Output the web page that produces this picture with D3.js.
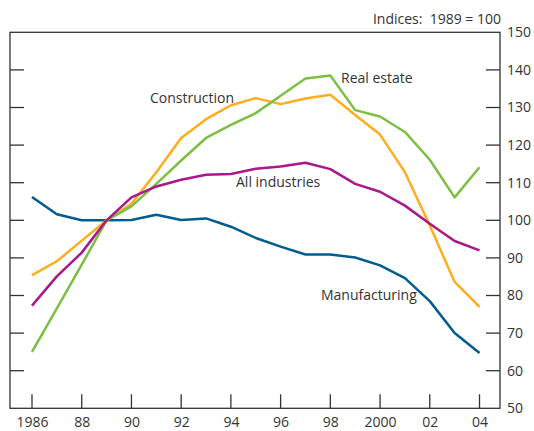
<!DOCTYPE html>
<html>
<head>
<meta charset="utf-8">
<script src="https://cdn.jsdelivr.net/npm/d3@7"></script>
<style>
  html, body { margin: 0; padding: 0; background: #fff; }
  svg { display: block; }
  text { font-family: "Open Sans", sans-serif; fill: #333; }
</style>
</head>
<body>
<svg id="chart" width="534" height="431"></svg>
<script>
const years = [1986,1987,1988,1989,1990,1991,1992,1993,1994,1995,1996,1997,1998,1999,2000,2001,2002,2003,2004];
const manufacturing = [106.2,101.6,100.0,100.0,100.1,101.5,100.1,100.5,98.3,95.3,93.0,90.9,90.9,90.1,88.0,84.6,78.5,70.0,64.7];
const construction  = [85.4,89.1,94.6,100.0,104.4,112.8,121.9,126.9,130.6,132.5,130.9,132.4,133.4,128.0,122.8,112.8,98.6,83.6,77.0];
const realEstate    = [65.0,76.6,88.2,100.0,103.7,109.7,115.9,121.9,125.4,128.5,133.1,137.7,138.5,129.3,127.6,123.5,116.1,106.1,114.1];
const allIndustries = [77.3,85.1,91.4,100.0,106.1,109.0,110.8,112.1,112.3,113.7,114.3,115.3,113.6,109.7,107.6,103.9,99.1,94.5,92.0];
const yTicks = [50,60,70,80,90,100,110,120,130,140,150];
const xTickYears = [1986,1988,1990,1992,1994,1996,1998,2000,2002,2004];
const xTickLabels = ["1986","88","90","92","94","96","98","2000","02","04"];
const seriesNames = ["Manufacturing","Construction","Real estate","All industries"];
const title = "Indices:  1989 = 100";

const colors = {
  "Manufacturing": "#005c8f",
  "Construction": "#ffad1c",
  "Real estate": "#7cc043",
  "All industries": "#a8178b"
};
const seriesData = {
  "Manufacturing": manufacturing,
  "Construction": construction,
  "Real estate": realEstate,
  "All industries": allIndustries
};

const svg = d3.select("#chart");
const pLeft = 10, pRight = 500, pTop = 32.3, pBottom = 408.3;
const x = d3.scaleLinear().domain([1986, 2004]).range([32, 479.5]);
const y = d3.scaleLinear().domain([50, 150]).range([pBottom, pTop]);
const axisColor = "#333";

svg.append("rect")
  .attr("x", pLeft).attr("y", pTop)
  .attr("width", pRight - pLeft).attr("height", pBottom - pTop)
  .attr("fill", "none").attr("stroke", axisColor).attr("stroke-width", 1.3);

const rightAxis = d3.axisRight(y).tickValues(yTicks).tickSize(0).tickPadding(7).tickFormat(d3.format("d"));
const ra = svg.append("g").attr("transform", `translate(${pRight},0)`).call(rightAxis);
ra.select(".domain").remove();
ra.selectAll("text").style("font-size", "14px").style("font-family", "'Open Sans', sans-serif").attr("fill", "#333");

const innerTicks = yTicks.filter(d => d > 50 && d < 150);
svg.append("g").selectAll("line").data(innerTicks).join("line")
  .attr("x1", pLeft).attr("x2", pLeft + 14)
  .attr("y1", d => y(d)).attr("y2", d => y(d))
  .attr("stroke", axisColor).attr("stroke-width", 1.3);
svg.append("g").selectAll("line").data(innerTicks).join("line")
  .attr("x1", pRight - 14).attr("x2", pRight)
  .attr("y1", d => y(d)).attr("y2", d => y(d))
  .attr("stroke", axisColor).attr("stroke-width", 1.3);

const bottomAxis = d3.axisBottom(x).tickValues(xTickYears).tickSize(0).tickPadding(9)
  .tickFormat((d, i) => xTickLabels[i]);
const ba = svg.append("g").attr("transform", `translate(0,${pBottom})`).call(bottomAxis);
ba.select(".domain").remove();
ba.selectAll("text").style("font-size", "14px").style("font-family", "'Open Sans', sans-serif").attr("fill", "#333");
svg.append("g").selectAll("line").data(xTickYears).join("line")
  .attr("x1", d => x(d)).attr("x2", d => x(d))
  .attr("y1", pBottom - 14).attr("y2", pBottom)
  .attr("stroke", axisColor).attr("stroke-width", 1.3);

const line = d3.line().x((d, i) => x(years[i])).y(d => y(d));
seriesNames.forEach(name => {
  svg.append("path")
    .datum(seriesData[name])
    .attr("fill", "none")
    .attr("stroke", colors[name])
    .attr("stroke-width", 2.5)
    .attr("stroke-linejoin", "round")
    .attr("d", line);
});

svg.append("text").attr("x", 501).attr("y", 24).attr("text-anchor", "end")
  .style("font-size", "14px").style("white-space", "pre").text(title);

const labels = [
  {name: "Construction", x: 150, y: 103},
  {name: "Real estate", x: 341, y: 82.7},
  {name: "All industries", x: 236, y: 186.7},
  {name: "Manufacturing", x: 321, y: 300}
];
svg.append("g").selectAll("text").data(labels).join("text")
  .attr("x", d => d.x).attr("y", d => d.y)
  .style("font-size", "14px")
  .text(d => d.name);
</script>
</body>
</html>
